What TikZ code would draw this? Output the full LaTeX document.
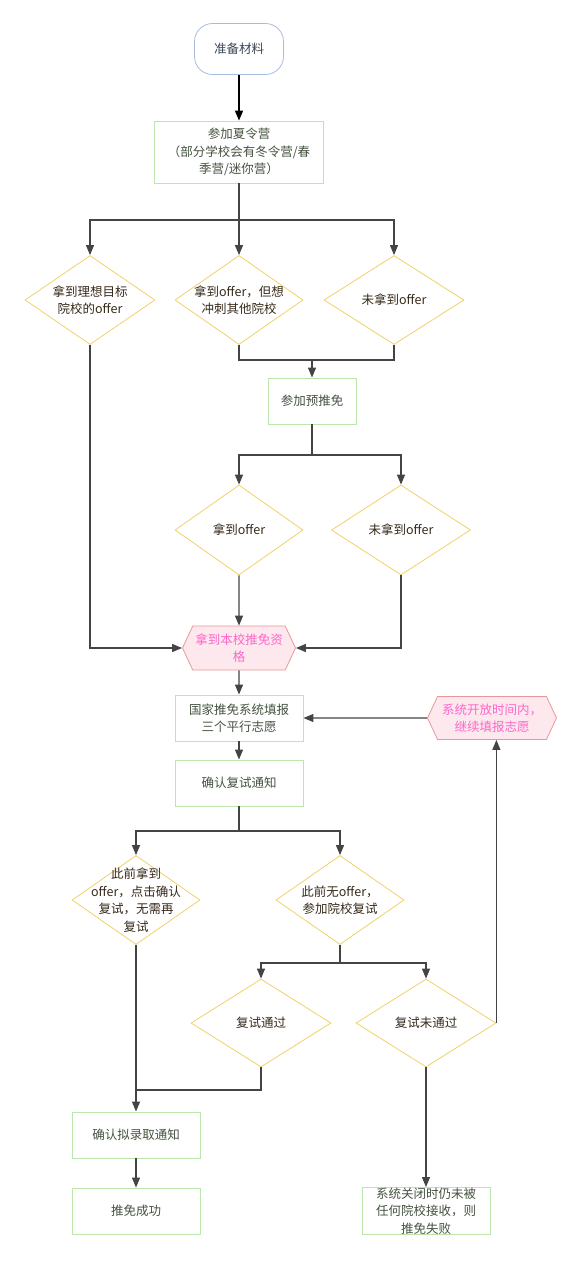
\documentclass[tikz,border=0pt]{standalone}
\usepackage{fontspec}
\setmainfont{Noto Sans CJK SC}
\usetikzlibrary{shapes.geometric,shapes.symbols,arrows.meta}

\definecolor{linegray}{HTML}{444444}
\definecolor{startblue}{HTML}{A6BCE0}
\definecolor{starttext}{HTML}{3A4656}
\definecolor{boxgreen}{HTML}{BCE6AC}
\definecolor{boxtext}{HTML}{44523F}
\definecolor{diayellow}{HTML}{F0D168}
\definecolor{diatext}{HTML}{36291A}
\definecolor{hexfill}{HTML}{FDE8ED}
\definecolor{hexline}{HTML}{E89898}
\definecolor{hextext}{HTML}{FF66CC}

\begin{document}
\begin{tikzpicture}[
        x=1pt, y=-1pt,
        font=\fontsize{12.5}{17.5}\selectfont,
        startstop/.style={rectangle, rounded corners=18pt, draw=startblue, line width=0.8pt, text=starttext, minimum width=89pt, minimum height=51pt},
        process/.style={rectangle, draw=boxgreen, line width=0.9pt, text=boxtext, minimum width=128pt, minimum height=46pt, inner sep=2pt, align=center},
        decision/.style={diamond, draw=diayellow, line width=0.8pt, text=diatext, minimum width=128pt, minimum height=89pt, inner sep=-20pt, align=center},
        hexnode/.style={signal, signal to=east and west, signal pointer angle=130, draw=hexline, fill=hexfill, line width=0.8pt, text=hextext, minimum width=113pt, minimum height=44pt, inner xsep=0pt, inner ysep=2pt, align=center},
        arrow/.style={-{Triangle[length=10pt,width=8pt]}, draw=linegray, line width=1.2pt},
        link/.style={draw=linegray, line width=1.2pt}
    ]
        \useasboundingbox (0,0) rectangle (582,1261);

        % Nodes
        \node[startstop] (start) at (239,49) {准备材料};
        \node[process, minimum width=169pt, minimum height=62pt] (camp) at (239,152) {参加夏令营\\（部分学校会有冬令营/春\\季营/迷你营）};
        \node[decision, minimum width=130pt] (want) at (90,300) {拿到理想目标\\院校的offer};
        \node[decision] (rush) at (239,300) {拿到offer，但想\\冲刺其他院校};
        \node[decision, minimum width=140pt] (nooffer) at (394,300) {未拿到offer};
        \node[process, minimum width=88pt] (pre) at (312,401) {参加预推免};
        \node[decision, minimum height=90pt] (preyes) at (239,530) {拿到offer};
        \node[decision, minimum width=139pt, minimum height=90pt] (preno) at (401,530) {未拿到offer};
        \node[hexnode] (qual) at (239,648) {拿到本校推免资\\格};
        \node[process] (fill) at (239,718) {国家推免系统填报\\三个平行志愿};
        \node[hexnode, minimum width=129pt, minimum height=43pt] (cont) at (492,718) {系统开放时间内，\\继续填报志愿};
        \node[process] (confirm) at (239,783) {确认复试通知};
        \node[decision] (had) at (136,900) {此前拿到\\offer，点击确认\\复试，无需再\\复试};
        \node[decision] (hadnot) at (340,900) {此前无offer，\\参加院校复试};
        \node[decision, minimum width=140pt, minimum height=88pt] (pass) at (261,1023) {复试通过};
        \node[decision, minimum width=140pt, minimum height=88pt] (fail) at (426,1023) {复试未通过};
        \node[process] (admit) at (136,1135) {确认拟录取通知};
        \node[process] (success) at (136,1211) {推免成功};
        \node[process, inner ysep=0pt, minimum height=47pt] (lost) at (426,1211) {系统关闭时仍未被\\任何院校接收，则\\推免失败};

        % Branch points
        \coordinate (s1) at (239,220);
        \coordinate (j1) at (312,360);
        \coordinate (s2) at (312,455);
        \coordinate (s3) at (239,831);
        \coordinate (s4) at (340,963);
        \coordinate (j2) at (136,1090);

        % Connections
        \draw[arrow, draw=black, line width=1.6pt] (start) -- (camp);
        \draw[link] (camp) -- (s1);
        \draw[arrow] (s1) -| (want);
        \draw[arrow] (s1) -- (rush);
        \draw[arrow] (s1) -| (nooffer);
        \draw[link] (rush) |- (j1);
        \draw[link] (nooffer) |- (j1);
        \draw[arrow] (j1) -- (pre);
        \draw[link] (pre) -- (s2);
        \draw[arrow] (s2) -| (preyes);
        \draw[arrow] (s2) -| (preno);
        \draw[arrow] (preyes) -- (qual);
        \draw[arrow] (preno) |- (qual);
        \draw[arrow] (want) |- (qual);
        \draw[arrow] (qual) -- (fill);
        \draw[arrow] (cont) -- (fill);
        \draw[arrow] (fill) -- (confirm);
        \draw[link] (confirm) -- (s3);
        \draw[arrow] (s3) -| (had);
        \draw[arrow] (s3) -| (hadnot);
        \draw[link] (hadnot) -- (s4);
        \draw[arrow] (s4) -| (pass);
        \draw[arrow] (s4) -| (fail);
        \draw[arrow] (fail.east) -- (fail.east |- cont.south);
        \draw[link] (pass) |- (j2);
        \draw[arrow] (had) -- (admit);
        \draw[arrow] (admit) -- (success);
        \draw[arrow] (fail) -- (lost);
\end{tikzpicture}
\end{document}
